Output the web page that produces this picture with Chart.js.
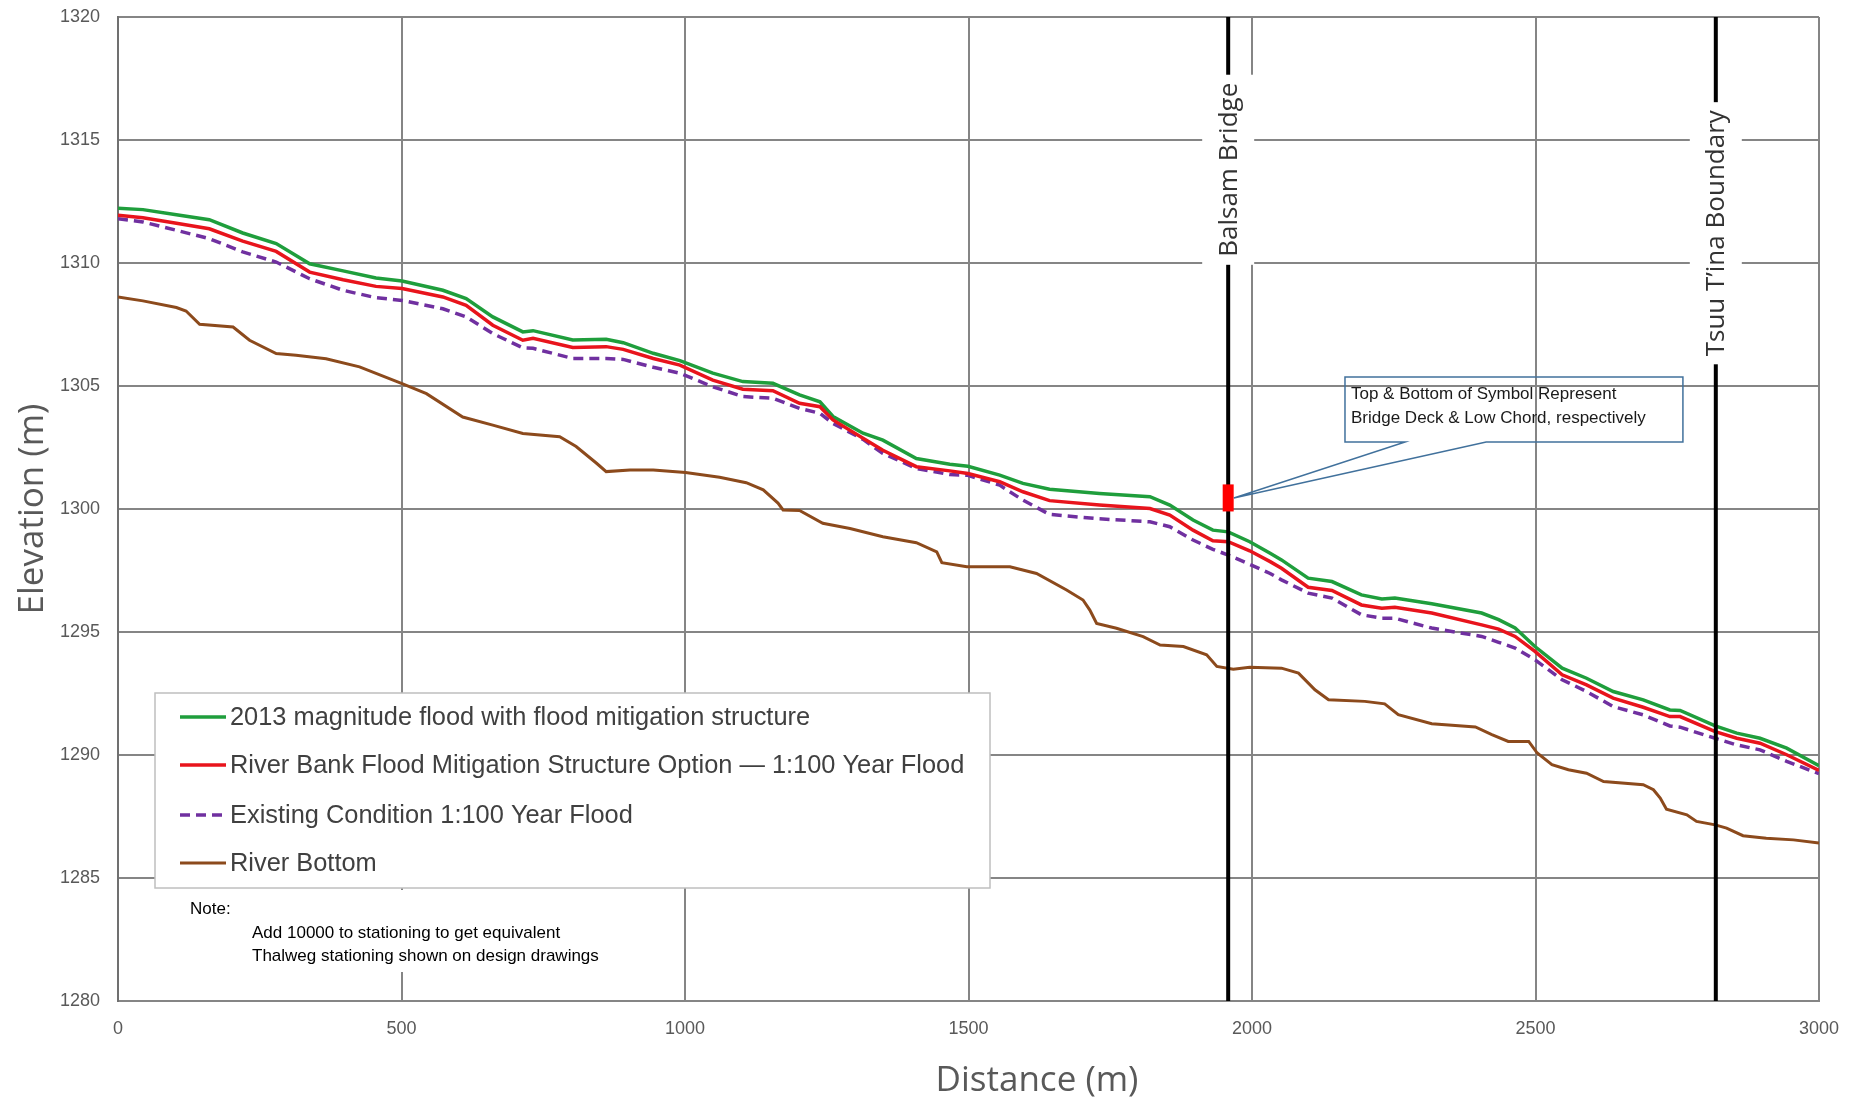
<!DOCTYPE html>
<html>
<head>
<meta charset="utf-8">
<title>Water Surface Profiles</title>
<script src="https://cdn.jsdelivr.net/npm/chart.js@4.4.1/dist/chart.umd.min.js"></script>
<style>
  html, body { margin: 0; padding: 0; background: #fff; }
  #wrap { width: 1858px; height: 1102px; }
</style>
</head>
<body>
<div id="wrap"><canvas id="profile" width="1858" height="1102"></canvas></div>
<script>
// DATA
// stations (m) used for the three water surface profiles
let stations = [0, 44, 103, 161, 220, 279, 338, 397, 455, 501,
  573, 614, 661, 714, 732, 802, 861, 891, 944, 991,
  1049, 1102, 1155, 1202, 1238, 1261, 1314, 1349, 1408, 1467,
  1499, 1555, 1596, 1643, 1731, 1820, 1855, 1896, 1931, 1958,
  1996, 2032, 2052, 2099, 2141, 2193, 2229, 2252, 2317, 2405,
  2435, 2464, 2499, 2547, 2590, 2637, 2690, 2737, 2755, 2817,
  2855, 2896, 2943, 3000];

let flood2013 = [1312.23, 1312.17, 1311.96, 1311.76, 1311.22, 1310.79, 1309.97, 1309.68, 1309.39, 1309.27,
  1308.89, 1308.55, 1307.81, 1307.20, 1307.25, 1306.87, 1306.90, 1306.76, 1306.33, 1306.03,
  1305.52, 1305.18, 1305.11, 1304.64, 1304.36, 1303.76, 1303.08, 1302.80, 1302.05, 1301.82,
  1301.74, 1301.38, 1301.04, 1300.80, 1300.63, 1300.50, 1300.16, 1299.55, 1299.14, 1299.07,
  1298.67, 1298.20, 1297.93, 1297.19, 1297.05, 1296.51, 1296.34, 1296.38, 1296.15, 1295.77,
  1295.50, 1295.16, 1294.41, 1293.53, 1293.12, 1292.58, 1292.24, 1291.83, 1291.81, 1291.18,
  1290.89, 1290.68, 1290.28, 1289.56];

let optionFlood = [1311.94, 1311.84, 1311.62, 1311.39, 1310.89, 1310.47, 1309.63, 1309.32, 1309.05, 1308.96,
  1308.62, 1308.28, 1307.47, 1306.86, 1306.94, 1306.57, 1306.60, 1306.49, 1306.12, 1305.85,
  1305.24, 1304.87, 1304.81, 1304.30, 1304.16, 1303.62, 1302.88, 1302.39, 1301.72, 1301.55,
  1301.44, 1301.11, 1300.70, 1300.34, 1300.16, 1300.02, 1299.75, 1299.14, 1298.71, 1298.67,
  1298.30, 1297.86, 1297.59, 1296.82, 1296.69, 1296.10, 1295.97, 1296.01, 1295.77, 1295.29,
  1295.12, 1294.82, 1294.21, 1293.26, 1292.85, 1292.31, 1291.94, 1291.56, 1291.56, 1290.95,
  1290.68, 1290.48, 1290.01, 1289.37];

let existingFlood = [1311.80, 1311.67, 1311.33, 1310.99, 1310.45, 1310.04, 1309.36, 1308.89, 1308.59, 1308.48,
  1308.14, 1307.81, 1307.13, 1306.55, 1306.53, 1306.12, 1306.12, 1306.08, 1305.76, 1305.52,
  1304.97, 1304.57, 1304.50, 1304.09, 1303.89, 1303.48, 1302.83, 1302.26, 1301.65, 1301.40,
  1301.37, 1300.97, 1300.36, 1299.78, 1299.60, 1299.48, 1299.28, 1298.74, 1298.36, 1298.13,
  1297.75, 1297.38, 1297.12, 1296.58, 1296.38, 1295.70, 1295.56, 1295.56, 1295.16, 1294.82,
  1294.58, 1294.35, 1293.87, 1293.06, 1292.58, 1291.97, 1291.63, 1291.18, 1291.13, 1290.68,
  1290.41, 1290.21, 1289.74, 1289.24];

// river bottom has its own stations
let bedStations = [0, 44, 103, 120, 144, 203, 232, 279, 314, 367,
  426, 501, 544, 608, 661, 714, 779, 808, 844, 861,
  903, 944, 1001, 1061, 1108, 1138, 1164, 1173, 1202, 1243,
  1291, 1349, 1408, 1444, 1453, 1497, 1573, 1620, 1673, 1702,
  1714, 1726, 1761, 1808, 1838, 1879, 1920, 1938, 1967, 1996,
  2052, 2082, 2111, 2135, 2199, 2234, 2258, 2317, 2394, 2423,
  2452, 2488, 2503, 2529, 2558, 2590, 2620, 2690, 2708, 2720,
  2731, 2767, 2784, 2817, 2837, 2866, 2907, 2955, 3000];

let riverBottom = [1308.62, 1308.46, 1308.19, 1308.05, 1307.51, 1307.40, 1306.86, 1306.32, 1306.25, 1306.11,
  1305.78, 1305.10, 1304.69, 1303.74, 1303.41, 1303.07, 1302.94, 1302.54, 1301.86, 1301.52,
  1301.59, 1301.59, 1301.48, 1301.29, 1301.07, 1300.78, 1300.24, 1299.96, 1299.94, 1299.42,
  1299.21, 1298.87, 1298.63, 1298.26, 1297.82, 1297.65, 1297.65, 1297.38, 1296.71, 1296.30,
  1295.89, 1295.35, 1295.15, 1294.81, 1294.47, 1294.41, 1294.07, 1293.60, 1293.49, 1293.57,
  1293.53, 1293.33, 1292.65, 1292.25, 1292.18, 1292.08, 1291.64, 1291.27, 1291.14, 1290.83,
  1290.55, 1290.55, 1290.08, 1289.61, 1289.40, 1289.26, 1288.92, 1288.79, 1288.59, 1288.25,
  1287.80, 1287.57, 1287.30, 1287.16, 1287.03, 1286.72, 1286.62, 1286.55, 1286.42];

let seriesNames = [
  "2013 magnitude flood with flood mitigation structure",
  "River Bank Flood Mitigation Structure Option \u2014 1:100 Year Flood",
  "Existing Condition 1:100 Year Flood",
  "River Bottom"
];

// bridge and boundary
let bridgeStation = 1958;
let bridgeDeck = 1301.0;
let lowChord = 1299.9;
let boundaryStation = 2818;
let markerNames = ["Balsam Bridge", "Tsuu T\u2019ina Boundary"];

let xTicks = [0, 500, 1000, 1500, 2000, 2500, 3000];
let yTicks = [1280, 1285, 1290, 1295, 1300, 1305, 1310, 1315, 1320];

let calloutText = ["Top & Bottom of Symbol Represent", "Bridge Deck & Low Chord, respectively"];
let noteText = ["Note:", "Add 10000 to stationing to get equivalent", "Thalweg stationing shown on design drawings"];

// STYLE
const SANS = '"Liberation Sans", Arial, sans-serif';
const OPEN = '"Open Sans", "DejaVu Sans", sans-serif';
const GREEN = "#1f9e3c";
const RED = "#e8141c";
const PURPLE = "#7030a0";
const BROWN = "#8c4a1c";
const GRID = "#858585";

function pts(xs, ys) {
  return xs.map((x, i) => ({ x: x, y: ys[i] }));
}

let lineStyles = [
  { color: GREEN, dash: [], width: 3.5 },
  { color: RED, dash: [], width: 3.5 },
  { color: PURPLE, dash: [10, 6], width: 3.5 },
  { color: BROWN, dash: [], width: 3 }
];

// plugin: marker labels, callout, legend, note, x title
const extras = {
  id: "extras",
  afterDatasetsDraw(chart) {
    let ctx = chart.ctx;
    let x = chart.scales.x, y = chart.scales.y;

    // rotated marker labels with white gap behind them
    let labels = [
      { st: bridgeStation, elev: 1313.79, text: markerNames[0] },
      { st: boundaryStation, elev: 1311.21, text: markerNames[1] }
    ];
    ctx.save();
    ctx.font = "26px " + OPEN;
    labels.forEach(l => {
      let px = x.getPixelForValue(l.st);
      let py = y.getPixelForValue(l.elev);
      let w = ctx.measureText(l.text).width;
      ctx.fillStyle = "#fff";
      ctx.fillRect(px - 26, py - w / 2 - 8, 52, w + 16);
      ctx.save();
      ctx.translate(px, py);
      ctx.rotate(-Math.PI / 2);
      ctx.fillStyle = "#333";
      ctx.textAlign = "center";
      ctx.textBaseline = "middle";
      ctx.fillText(l.text, 0, 1);
      ctx.restore();
    });
    ctx.restore();

    // callout box pointing at the bridge symbol
    let bx1 = x.getPixelForValue(2164), bx2 = x.getPixelForValue(2760);
    let by1 = y.getPixelForValue(1305.37), by2 = y.getPixelForValue(1302.72);
    let w1 = x.getPixelForValue(2270), w2 = x.getPixelForValue(2413);
    let tipX = x.getPixelForValue(1968), tipY = y.getPixelForValue(1300.45);
    ctx.save();
    ctx.strokeStyle = "#41719c";
    ctx.lineWidth = 1.5;
    ctx.beginPath();
    ctx.moveTo(bx1, by1);
    ctx.lineTo(bx2, by1);
    ctx.lineTo(bx2, by2);
    ctx.lineTo(w2, by2);
    ctx.lineTo(tipX, tipY);
    ctx.lineTo(w1, by2);
    ctx.lineTo(bx1, by2);
    ctx.closePath();
    ctx.stroke();
    ctx.fillStyle = "#1a1a1a";
    ctx.font = "17px " + SANS;
    ctx.textBaseline = "middle";
    ctx.fillText(calloutText[0], bx1 + 6, by1 + 17);
    ctx.fillText(calloutText[1], bx1 + 6, by1 + 41);
    ctx.restore();
  },
  afterDraw(chart) {
    let ctx = chart.ctx;
    ctx.save();

    // white area behind the note
    ctx.fillStyle = "#fff";
    ctx.fillRect(160, 890, 480, 82);

    // legend box
    ctx.fillStyle = "#fff";
    ctx.fillRect(155, 693, 835, 195);
    ctx.strokeStyle = "#bfbfbf";
    ctx.lineWidth = 1.5;
    ctx.strokeRect(155, 693, 835, 195);

    let rows = [717, 765, 815, 863];
    ctx.font = "25.4px " + SANS;
    ctx.textBaseline = "middle";
    seriesNames.forEach((name, i) => {
      let s = lineStyles[i];
      ctx.strokeStyle = s.color;
      ctx.lineWidth = s.width;
      ctx.setLineDash(s.dash);
      ctx.beginPath();
      ctx.moveTo(180, rows[i]);
      ctx.lineTo(226, rows[i]);
      ctx.stroke();
      ctx.setLineDash([]);
      ctx.fillStyle = "#404040";
      ctx.fillText(name, 230, rows[i] + 1);
    });

    // note
    ctx.fillStyle = "#000";
    ctx.font = "17px " + SANS;
    ctx.fillText(noteText[0], 190, 909);
    ctx.fillText(noteText[1], 252, 933);
    ctx.fillText(noteText[2], 252, 956);

    // x axis title
    ctx.fillStyle = "#595959";
    ctx.font = "35px " + OPEN;
    ctx.textAlign = "center";
    ctx.fillText("Distance (m)", 1037, 1081);
    ctx.restore();
  }
};

let datasets = [
  {
    label: "Bridge deck / low chord",
    data: pts([bridgeStation, bridgeStation], [lowChord, bridgeDeck]),
    borderColor: "#ff0000",
    borderWidth: 11,
    borderCapStyle: "butt",
    order: 0
  },
  {
    label: markerNames[0],
    data: pts([bridgeStation, bridgeStation], [1280, 1320]),
    borderColor: "#000",
    borderWidth: 4,
    order: 1
  },
  {
    label: markerNames[1],
    data: pts([boundaryStation, boundaryStation], [1280, 1320]),
    borderColor: "#000",
    borderWidth: 4,
    order: 1
  },
  { label: seriesNames[0], data: pts(stations, flood2013), order: 3 },
  { label: seriesNames[1], data: pts(stations, optionFlood), order: 2 },
  { label: seriesNames[2], data: pts(stations, existingFlood), order: 4 },
  { label: seriesNames[3], data: pts(bedStations, riverBottom), order: 5 }
];

for (let i = 0; i < 4; i++) {
  let d = datasets[3 + i], s = lineStyles[i];
  d.borderColor = s.color;
  d.borderWidth = s.width;
  d.borderDash = s.dash;
}
datasets.forEach(d => {
  d.showLine = true;
  d.pointRadius = 0;
  d.tension = 0;
  d.fill = false;
});

let ctx = document.getElementById("profile").getContext("2d");
let chart = new Chart(ctx, {
  type: "scatter",
  data: { datasets: datasets },
  options: {
    responsive: false,
    animation: false,
    devicePixelRatio: 1,
    layout: { padding: { top: 17, right: 39, bottom: 0, left: 0 } },
    plugins: {
      legend: { display: false },
      tooltip: { enabled: false }
    },
    scales: {
      x: {
        type: "linear",
        min: 0,
        max: 3000,
        afterBuildTicks: s => { s.ticks = xTicks.map(v => ({ value: v })); },
        afterFit: s => { s.height = 101; s.paddingLeft = 0; s.paddingRight = 0; },
        grid: { color: GRID, lineWidth: 2, drawTicks: false },
        border: { color: GRID, width: 2 },
        ticks: {
          padding: 17,
          color: "#595959",
          font: { family: SANS, size: 18 },
          maxRotation: 0,
          callback: v => String(v)
        }
      },
      y: {
        type: "linear",
        min: 1280,
        max: 1320,
        afterBuildTicks: s => { s.ticks = yTicks.map(v => ({ value: v })); },
        afterFit: s => { s.width = 118; s.paddingTop = 0; s.paddingBottom = 0; },
        grid: { color: GRID, lineWidth: 2, drawTicks: false },
        border: { color: "#707070", width: 2 },
        ticks: {
          padding: 18,
          color: "#595959",
          font: { family: SANS, size: 18 },
          callback: v => String(v)
        },
        title: {
          display: true,
          text: "Elevation (m)",
          color: "#595959",
          font: { family: OPEN, size: 35 },
          padding: { top: 12, bottom: 0 }
        }
      }
    }
  },
  plugins: [extras]
});
</script>
</body>
</html>
